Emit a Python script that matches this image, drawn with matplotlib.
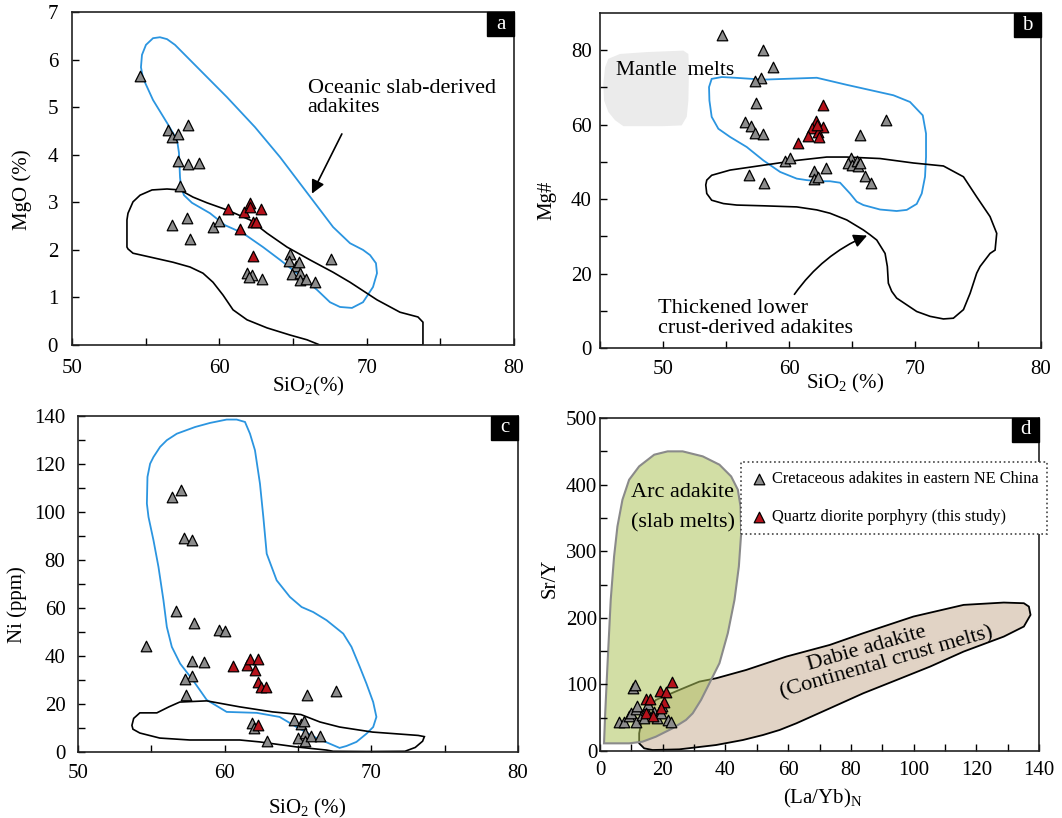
import numpy as np
import matplotlib
matplotlib.use('Agg')
import matplotlib.pyplot as plt
from matplotlib.patches import Rectangle

plt.rcParams['font.family'] = ['Liberation Serif', 'DejaVu Serif']
plt.rcParams['axes.linewidth'] = 1.2

# ---- panel a: MgO vs SiO2
a_grey_x = [54.6, 56.5, 56.8, 57.2, 57.9, 57.2, 57.9, 58.6, 57.3, 56.8, 57.8, 58.0, 59.6, 60.0,
            64.8, 64.7, 65.2, 65.4, 64.9, 65.5, 65.5, 65.9, 66.5, 67.6, 61.9, 62.2, 62.0, 62.9]
a_grey_y = [5.66, 4.52, 4.38, 4.43, 4.63, 3.87, 3.80, 3.82, 3.35, 2.52, 2.68, 2.22, 2.49, 2.61,
            1.91, 1.77, 1.67, 1.75, 1.49, 1.51, 1.37, 1.38, 1.33, 1.80, 1.51, 1.47, 1.42, 1.39]
a_red_x = [60.6, 61.7, 62.1, 62.1, 62.8, 61.4, 62.3, 62.5, 62.3]
a_red_y = [2.85, 2.80, 2.99, 2.91, 2.85, 2.43, 2.59, 2.59, 1.87]

a_slab_x = [54.75, 55.02, 55.50, 55.97, 56.45, 56.99, 58.69, 60.52, 62.42, 64.12, 65.81, 67.72,
            68.87, 69.75, 70.23, 70.63, 70.70, 70.43, 69.75, 69.00, 68.19, 67.51, 66.63, 65.27,
            64.12, 62.96, 61.61, 60.38, 59.37, 58.14, 57.60, 57.40, 57.33, 57.26, 57.13, 56.45,
            55.50, 54.82, 54.68]
a_slab_y = [6.10, 6.31, 6.45, 6.47, 6.43, 6.31, 5.78, 5.21, 4.58, 3.95, 3.26, 2.48,
            2.14, 2.00, 1.89, 1.72, 1.51, 1.22, 0.90, 0.78, 0.80, 0.90, 1.16, 1.51,
            1.79, 2.06, 2.35, 2.52, 2.77, 2.99, 3.15, 3.32, 3.53, 4.04, 4.31, 4.67,
            5.15, 5.61, 5.84]
a_crust_x = [53.73, 53.73, 53.80, 54.14, 54.62, 55.43, 56.45, 57.33, 58.21, 59.16, 60.52, 62.08,
             63.24, 64.59, 66.15, 67.72, 68.87, 70.70, 72.26, 73.48, 73.82, 73.82, 66.83, 65.95,
             64.80, 63.24, 61.88, 60.93, 60.25, 59.57, 58.89, 58.01, 56.86, 55.29, 54.14, 53.80]
a_crust_y = [2.06, 2.63, 2.77, 3.01, 3.15, 3.26, 3.28, 3.26, 3.11, 2.99, 2.84, 2.63,
             2.35, 2.06, 1.79, 1.53, 1.32, 0.95, 0.69, 0.59, 0.48, 0.0, 0.0, 0.11,
             0.21, 0.36, 0.53, 0.74, 1.05, 1.32, 1.51, 1.64, 1.74, 1.85, 1.93, 2.02]

# ---- panel b: Mg# vs SiO2
b_grey_x = [54.7, 57.9, 58.7, 57.8, 57.3, 57.4, 56.5, 57.0, 57.3, 57.9, 65.6, 67.7, 59.7, 60.1,
            56.8, 58.0, 62.0, 62.0, 62.3, 62.9, 64.9, 64.7, 65.0, 65.4, 65.5, 65.6, 66.0, 66.5]
b_grey_y = [84.1, 80.1, 75.4, 72.6, 71.6, 65.8, 60.7, 59.7, 57.8, 57.6, 57.2, 61.2, 50.2, 51.1,
            46.6, 44.4, 47.5, 45.3, 46.0, 48.4, 51.1, 49.7, 49.1, 50.2, 48.9, 49.6, 46.2, 44.4]
b_red_x = [62.7, 62.1, 61.8, 62.7, 62.3, 61.5, 62.4, 60.7, 62.2]
b_red_y = [65.2, 61.0, 59.1, 59.4, 58.0, 56.9, 56.7, 55.1, 60.0]

b_slab_x = [53.86, 54.66, 55.71, 57.96, 62.20, 64.58, 68.28, 69.60, 70.61, 70.87, 70.87, 70.79,
            70.53, 70.13, 69.34, 68.54, 67.22, 65.90, 65.37, 64.84, 64.05, 63.25, 62.46, 61.40,
            60.61, 59.29, 57.96, 56.64, 55.32, 54.39, 53.86, 53.68, 53.65]
b_slab_y = [72.3, 72.8, 72.6, 72.1, 72.6, 70.7, 67.9, 66.1, 62.5, 57.6, 51.3, 46.0,
            41.5, 38.7, 37.1, 36.8, 37.2, 38.4, 39.3, 41.5, 44.4, 44.8, 44.8, 45.1,
            45.5, 47.3, 50.4, 54.0, 56.7, 58.9, 62.1, 66.5, 70.1]
b_crust_x = [53.47, 53.86, 55.32, 57.96, 60.61, 62.99, 64.58, 67.22, 69.87, 72.25, 73.84, 74.89,
             75.95, 76.48, 76.35, 75.95, 75.16, 74.89, 74.37, 73.84, 73.04, 72.25, 71.19, 70.13,
             68.54, 68.15, 67.88, 67.80, 67.62, 66.96, 66.43, 65.90, 64.58, 63.25, 62.20, 60.61,
             57.96, 55.85, 54.79, 53.86, 53.47, 53.39]
b_crust_y = [45.1, 46.4, 47.8, 49.1, 50.4, 51.3, 51.3, 50.9, 49.7, 48.9, 46.0, 40.6,
             35.3, 30.8, 26.3, 25.4, 21.9, 20.1, 14.7, 10.3, 8.0, 7.8, 8.5, 9.8,
             13.4, 15.2, 17.4, 21.9, 25.4, 29.0, 30.4, 31.7, 34.4, 36.2, 37.1, 37.9,
             38.2, 38.4, 38.8, 39.7, 41.5, 43.8]
b_mantle_x = [45.40, 45.66, 46.59, 48.70, 51.61, 52.01, 52.06, 52.01, 51.88, 51.48, 50.03, 46.85,
              46.19, 45.66, 45.32, 45.26]
b_mantle_y = [75.4, 77.7, 79.0, 79.5, 79.9, 79.0, 75.4, 66.5, 62.1, 59.8, 59.6, 59.6,
              61.2, 63.4, 66.5, 70.9]

# ---- panel c: Ni vs SiO2
c_grey_x = [54.65, 56.4, 57.0, 57.2, 57.8, 56.7, 57.9, 59.6, 60.0, 57.8, 58.6, 57.8, 57.3, 57.4,
            65.6, 67.6, 61.9, 62.0, 62.9, 64.7, 65.2, 65.4, 65.0, 65.5, 65.5, 65.9, 66.5]
c_grey_y = [44.0, 106.3, 109.0, 89.2, 88.2, 58.6, 53.8, 50.7, 50.3, 38.1, 37.5, 31.5, 30.6, 23.9,
            23.9, 25.4, 12.2, 10.0, 4.4, 13.2, 11.8, 12.9, 6.0, 8.1, 4.4, 6.7, 6.7]
c_red_x = [60.6, 61.5, 61.7, 62.3, 62.1, 62.3, 62.5, 62.8, 62.3]
c_red_y = [35.8, 36.4, 38.6, 38.6, 34.3, 29.2, 27.1, 27.1, 11.1]

c_slab_x = [56.06, 56.74, 57.99, 59.01, 60.14, 60.82, 61.39, 61.73, 62.07, 62.41, 62.64, 62.87,
            63.55, 64.45, 65.25, 66.04, 66.95, 68.09, 68.65, 69.22, 69.67, 70.13, 70.35, 70.13,
            69.67, 68.99, 68.31, 67.84, 66.27, 64.91, 63.75, 62.19, 60.14, 58.78, 57.83, 56.97,
            56.40, 56.06, 55.83, 55.49, 55.15, 54.81, 54.70, 54.74, 54.92, 55.15, 55.60]
c_slab_y = [129.9, 132.6, 135.4, 137.1, 138.5, 138.5, 137.5, 132.6, 125.7, 111.8, 97.9, 82.6,
            71.5, 64.6, 60.4, 58.3, 54.9, 49.3, 43.8, 35.4, 28.5, 20.8, 14.6, 10.4,
            7.6, 4.2, 2.5, 1.7, 5.8, 10.4, 14.6, 16.3, 16.7, 21.7, 30.0, 36.8,
            43.8, 52.1, 63.2, 77.1, 88.2, 97.9, 103.5, 114.6, 120.1, 122.9, 127.1]
c_crust_x = [53.68, 53.80, 54.22, 55.38, 56.20, 56.94, 58.78, 61.03, 63.27, 65.20, 66.50, 67.84,
             70.08, 73.20, 73.62, 73.50, 73.00, 72.30, 69.70, 67.40, 66.95, 64.91, 62.39, 61.03,
             57.62, 55.58, 54.22, 53.75]
c_crust_y = [11.1, 14.0, 16.3, 16.3, 18.8, 20.8, 21.3, 18.8, 16.7, 15.6, 12.5, 10.4,
             8.3, 6.9, 6.4, 4.5, 1.9, 0.3, 0.2, 0.3, 0.8, 2.1, 4.2, 5.0,
             5.0, 5.8, 7.9, 9.5]

# ---- panel d: Sr/Y vs (La/Yb)N
d_grey_x = [6.1, 7.7, 9.1, 10.6, 11.2, 9.8, 11.4, 11.9, 11.6, 13.5, 14.6, 15.4, 17.3, 18.3,
            19.4, 19.9, 21.8, 22.6, 14.1]
d_grey_y = [44, 43, 52, 94, 99, 57, 63, 68, 43, 54, 62, 71, 59, 49, 57, 67, 46, 44, 49]
d_red_x = [14.6, 16.0, 14.8, 17.0, 19.1, 21.0, 20.5, 19.4, 22.8]
d_red_y = [78, 78, 57, 53, 90, 88, 73, 64, 103]

d_arc_x = [1.28, 1.60, 2.35, 3.41, 4.48, 5.55, 7.15, 9.28, 12.48, 17.28, 21.55, 26.35, 32.75,
           38.08, 41.81, 43.95, 44.80, 45.01, 44.27, 42.88, 40.75, 38.08, 34.88, 32.21, 29.55,
           27.41, 23.15, 17.81, 13.55, 9.28]
d_arc_y = [11.5, 51.6, 126.8, 227.0, 292.1, 337.2, 377.3, 407.3, 427.4, 444.9, 449.9, 449.9, 442.4,
           429.9, 412.3, 392.3, 367.2, 327.2, 277.1, 227.0, 176.9, 131.8, 101.7, 76.7, 56.6,
           46.6, 34.1, 21.5, 14.0, 11.5]
d_dabie_x = [12.48, 14.08, 16.75, 25.28, 37.01, 45.55, 51.95, 57.28, 62.61, 73.28, 83.95, 94.61,
             105.28, 115.95, 128.75, 135.15, 137.28, 136.75, 135.15, 128.75, 115.95, 99.95, 83.95,
             73.28, 59.41, 46.61, 37.01, 31.68, 25.28, 17.81, 13.55, 12.48]
d_dabie_y = [11.5, 4.0, 1.5, 2.5, 9.0, 16.5, 24.0, 31.6, 41.6, 64.1, 86.7, 106.7,
             126.8, 149.3, 171.8, 186.9, 204.4, 216.9, 221.9, 222.9, 219.4, 201.9, 176.9,
             159.3, 141.8, 121.7, 109.2, 104.2, 91.7, 76.7, 51.6, 26.6]

GREY = '#8c8c8c'
RED = '#b5121b'
BLUE = '#2b95e0'
ANN = 16


def style(ax, xlim, ylim, xmaj, xmin, ymaj, ymin, pad):
    ax.set_xlim(*xlim)
    ax.set_ylim(*ylim)
    ax.set_xticks(xmaj)
    ax.set_xticks(xmin, minor=True)
    ax.set_yticks(ymaj)
    ax.set_yticks(ymin, minor=True)
    ax.tick_params(which='both', direction='in', length=5, width=1, top=False, right=False,
                   labelsize=15)
    ax.tick_params(axis='y', pad=pad[0])
    ax.tick_params(axis='x', pad=pad[1])
    for s in ax.spines.values():
        s.set_color('#222222')


def points(ax, gx, gy, rx, ry):
    ax.scatter(gx, gy, marker='^', s=58, c=GREY, edgecolors='black', linewidths=0.9, zorder=5)
    ax.scatter(rx, ry, marker='^', s=58, c=RED, edgecolors='black', linewidths=0.9, zorder=6)


def tag(ax, letter):
    # black corner box, about 27 x 24 px
    bb = ax.get_position()
    w = 27 / (bb.width * 1062)
    h = 24 / (bb.height * 818)
    ax.add_patch(Rectangle((1 - w, 1 - h), w, h, transform=ax.transAxes, facecolor='black',
                           edgecolor='black', zorder=10, clip_on=False))
    ax.text(1 - w / 2, 1 - h / 2, letter, transform=ax.transAxes, color='white', fontsize=15,
            ha='center', va='center', zorder=11)


fig = plt.figure(figsize=(10.62, 8.18), dpi=100)

# panel a
ax = fig.add_axes([0.0678, 0.5782, 0.4162, 0.4071])
style(ax, (50, 80), (0, 7), [50, 60, 70, 80], [55, 65, 75], range(8), [], (10, 10))
ax.fill(a_slab_x, a_slab_y, facecolor='none', edgecolor=BLUE, lw=1.3)
ax.fill(a_crust_x, a_crust_y, facecolor='none', edgecolor='black', lw=1.2)
points(ax, a_grey_x, a_grey_y, a_red_x, a_red_y)
ax.text(66.0, 5.19, 'Oceanic slab-derived\nadakites', fontsize=ANN, va='center', ha='left',
        linespacing=1.05)
ax.annotate('', xy=(66.2, 3.13), xytext=(68.4, 4.49),
            arrowprops=dict(arrowstyle='-|>', color='black', lw=1.2, mutation_scale=20))
ax.set_ylabel('MgO (%)', fontsize=15)
ax.set_xlabel(r'SiO$\mathregular{_2}$(%)', fontsize=15)
ax.xaxis.set_label_coords(0.534, -0.09)
ax.yaxis.set_label_coords(-0.09, 0.465)
tag(ax, 'a')

# panel b
ax = fig.add_axes([0.565, 0.5746, 0.4153, 0.4095])
style(ax, (45, 80), (0, 90), [50, 60, 70, 80], [45, 55, 65, 75], [0, 20, 40, 60, 80],
      [10, 30, 50, 70], (6, 9))
ax.fill(b_mantle_x, b_mantle_y, facecolor='#ebebeb', edgecolor='none')
ax.fill(b_slab_x, b_slab_y, facecolor='none', edgecolor=BLUE, lw=1.3)
ax.fill(b_crust_x, b_crust_y, facecolor='none', edgecolor='black', lw=1.2)
points(ax, b_grey_x, b_grey_y, b_red_x, b_red_y)
ax.text(46.27, 74.6, 'Mantle  melts', fontsize=ANN - 0.5, va='center', ha='left')
ax.text(49.6, 7.95, 'Thickened lower\ncrust-derived adakites', fontsize=ANN, va='center',
        ha='left', linespacing=1.05)
ax.annotate('', xy=(66.4, 30.5), xytext=(60.3, 13.8),
            arrowprops=dict(arrowstyle='-|>', color='black', lw=1.2, mutation_scale=20,
                            connectionstyle='arc3,rad=-0.15'))
ax.set_ylabel('Mg#', fontsize=15)
ax.set_xlabel(r'SiO$\mathregular{_2}$ (%)', fontsize=15)
ax.xaxis.set_label_coords(0.556, -0.072)
ax.yaxis.set_label_coords(-0.098, 0.442)
tag(ax, 'b')

# panel c
ax = fig.add_axes([0.0734, 0.0807, 0.4143, 0.4108])
style(ax, (50, 80), (0, 140), [50, 60, 70, 80], [55, 65, 75], range(0, 141, 20),
      range(10, 140, 20), (9, 9))
ax.fill(c_slab_x, c_slab_y, facecolor='none', edgecolor=BLUE, lw=1.3)
ax.fill(c_crust_x, c_crust_y, facecolor='none', edgecolor='black', lw=1.2)
points(ax, c_grey_x, c_grey_y, c_red_x, c_red_y)
ax.set_ylabel('Ni (ppm)', fontsize=15)
ax.set_xlabel(r'SiO$\mathregular{_2}$ (%)', fontsize=15)
ax.xaxis.set_label_coords(0.52, -0.134)
ax.yaxis.set_label_coords(-0.116, 0.4375)
tag(ax, 'c')

# panel d
ax = fig.add_axes([0.565, 0.0819, 0.4134, 0.4071])
style(ax, (0, 140), (0, 500), range(0, 141, 20), range(10, 140, 20), range(0, 501, 100),
      range(50, 500, 100), (2, 7))
ax.fill(d_dabie_x, d_dabie_y, facecolor=(190/255, 159/255, 128/255, 0.45),
        edgecolor='black', lw=1.3)
ax.fill(d_arc_x, d_arc_y, facecolor=(173/255, 195/255, 91/255, 0.55),
        edgecolor='#8a8a8a', lw=1.5)
ax.scatter(d_grey_x, d_grey_y, marker='^', s=58, c=GREY, edgecolors='black', linewidths=0.9,
           zorder=5, label='Cretaceous adakites in eastern NE China')
ax.scatter(d_red_x, d_red_y, marker='^', s=58, c=RED, edgecolors='black', linewidths=0.9,
           zorder=6, label='Quartz diorite porphyry (this study)')
ax.text(26.3, 388, 'Arc adakite', fontsize=ANN, ha='center', va='center')
ax.text(26.6, 342, '(slab melts)', fontsize=ANN, ha='center', va='center')
ax.text(85.2, 154, 'Dabie adakite', fontsize=ANN, ha='center', va='center', rotation=16)
ax.text(91.4, 133, '(Continental crust melts)', fontsize=ANN, ha='center', va='center',
        rotation=16)
leg = ax.legend(loc='upper left', bbox_to_anchor=(0.322, 0.867), borderaxespad=0,
                fontsize=11.8, fancybox=False, handletextpad=0.2, handlelength=1.1,
                labelspacing=1.35, borderpad=0.55, edgecolor='#444444', framealpha=1)
leg.get_frame().set_linestyle(':')
leg.get_frame().set_linewidth(1.2)
ax.set_ylabel('Sr/Y', fontsize=15)
ax.set_xlabel(r'(La/Yb)$\mathregular{_N}$', fontsize=15)
ax.xaxis.set_label_coords(0.508, -0.108)
ax.yaxis.set_label_coords(-0.091, 0.52)
tag(ax, 'd')

fig.savefig('out.png', dpi=100)
